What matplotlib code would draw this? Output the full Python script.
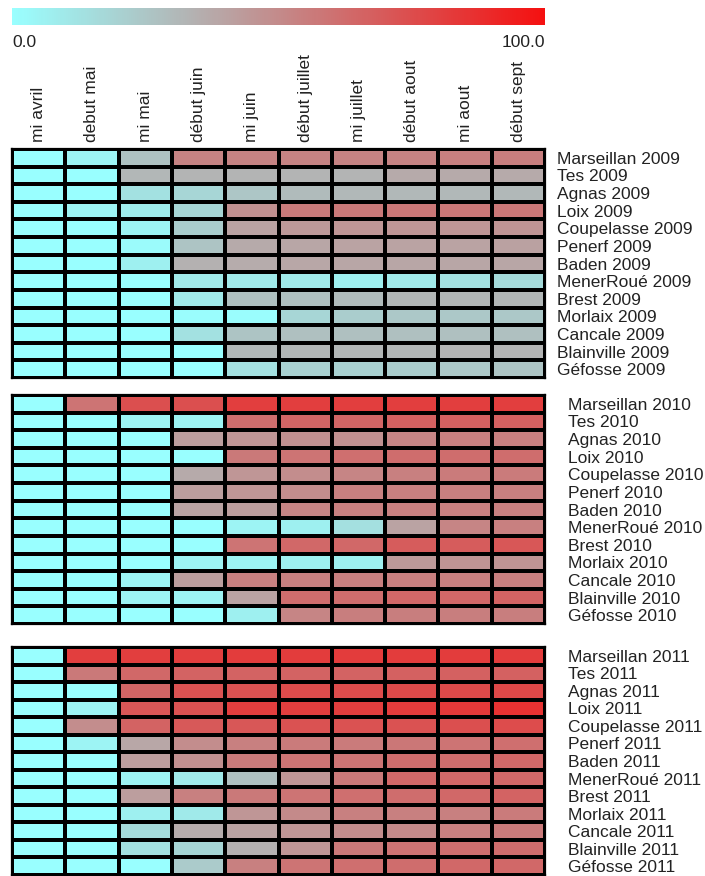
import numpy as np
import matplotlib
matplotlib.use("Agg")
import matplotlib.pyplot as plt
from matplotlib.colors import LinearSegmentedColormap, Normalize
from matplotlib.cm import ScalarMappable

plt.rcParams["font.family"] = ["Liberation Sans", "DejaVu Sans"]

periods = ["mi avril", "debut mai", "mi mai", "début juin", "mi juin",
           "début juillet", "mi juillet", "début aout", "mi aout", "début sept"]
sites = ["Marseillan", "Tes", "Agnas", "Loix", "Coupelasse", "Penerf", "Baden",
         "MenerRoué", "Brest", "Morlaix", "Cancale", "Blainville", "Géfosse"]
years = ["2009", "2010", "2011"]

values_2009 = [
    [0, 5, 27, 53, 53, 53, 53, 53, 54, 55],
    [0, 0, 32, 33, 33, 33, 33, 37, 37, 37],
    [0, 0, 13, 18, 25, 30, 31, 31, 31, 31],
    [0, 5, 8, 18, 47, 56, 57, 58, 58, 58],
    [0, 0, 5, 22, 40, 44, 45, 45, 45, 46],
    [0, 0, 2, 26, 37, 39, 40, 40, 40, 41],
    [0, 0, 7, 34, 36, 38, 39, 39, 39, 39],
    [0, 0, 0, 9, 9, 9, 7, 9, 13, 16],
    [0, 0, 0, 9, 28, 28, 30, 32, 32, 32],
    [0, 0, 0, 1, 1, 18, 22, 24, 24, 24],
    [0, 0, 0, 13, 26, 28, 28, 28, 28, 28],
    [0, 0, 0, 0, 31, 32, 32, 32, 33, 33],
    [0, 0, 0, 0, 14, 20, 20, 22, 24, 26],
]
values_2010 = [
    [0, 59, 74, 74, 81, 81, 81, 81, 81, 81],
    [0, 0, 5, 5, 62, 65, 65, 67, 67, 67],
    [0, 0, 0, 42, 45, 48, 48, 52, 54, 54],
    [0, 0, 0, 0, 57, 59, 61, 62, 62, 62],
    [0, 0, 0, 37, 45, 49, 52, 54, 56, 56],
    [0, 0, 0, 42, 45, 49, 54, 54, 54, 54],
    [0, 0, 0, 40, 42, 52, 54, 54, 54, 54],
    [0, 0, 0, 0, 5, 7, 14, 40, 52, 54],
    [0, 0, 0, 0, 59, 64, 64, 69, 69, 71],
    [0, 0, 0, 5, 5, 7, 7, 44, 46, 46],
    [0, 0, 5, 42, 54, 54, 54, 54, 54, 54],
    [0, 0, 5, 5, 40, 62, 62, 64, 64, 66],
    [0, 0, 0, 0, 7, 52, 55, 55, 55, 55],
]
values_2011 = [
    [0, 81, 81, 81, 82, 82, 82, 82, 82, 82],
    [0, 57, 64, 66, 66, 66, 66, 67, 67, 67],
    [0, 0, 65, 73, 73, 75, 75, 76, 76, 77],
    [0, 5, 71, 73, 81, 81, 81, 82, 83, 86],
    [0, 49, 66, 70, 71, 73, 73, 73, 74, 75],
    [0, 5, 38, 49, 54, 56, 56, 58, 59, 61],
    [0, 0, 42, 48, 56, 59, 59, 62, 62, 64],
    [0, 0, 5, 9, 28, 45, 57, 64, 64, 64],
    [0, 0, 42, 54, 57, 59, 61, 62, 64, 66],
    [0, 0, 7, 9, 45, 50, 54, 54, 54, 56],
    [0, 0, 16, 36, 40, 45, 49, 50, 54, 56],
    [0, 0, 13, 18, 34, 45, 57, 59, 61, 62],
    [0, 0, 0, 23, 54, 59, 61, 62, 64, 64],
]
vmin, vmax = 0.0, 100.0

cmap = LinearSegmentedColormap.from_list(
    "cyan_grey_red", [(0.0, "#99ffff"), (1 / 3, "#b3b3b3"), (1.0, "#f51010")])
norm = Normalize(vmin=vmin, vmax=vmax)
text_color = "#222222"
fs = 12.5
grid_lw = 1.6

W, H = 705, 876
fig = plt.figure(figsize=(W / 100, H / 100), dpi=100)


def px_axes(x0, y0, x1, y1):
    return fig.add_axes([x0 / W, 1 - y1 / H, (x1 - x0) / W, (y1 - y0) / H])


# colour scale
cax = px_axes(12, 8, 545, 25)
cb = fig.colorbar(ScalarMappable(norm=norm, cmap=cmap), cax=cax,
                  orientation="horizontal")
cb.outline.set_visible(False)
cb.set_ticks([vmin, vmax])
cb.set_ticklabels([f"{vmin:.1f}", f"{vmax:.1f}"])
cax.tick_params(length=0, pad=7, labelsize=fs, labelcolor=text_color)
tl = cax.get_xticklabels()
tl[0].set_ha("left")
tl[1].set_ha("right")

panels = [
    (values_2009, (149, 378), 8.5, True),
    (values_2010, (395, 624), 16.5, False),
    (values_2011, (647, 875), 16.5, False),
]

for (vals, (top, bottom), rpad, show_cols), year in zip(panels, years):
    ax = px_axes(12, top, 545, bottom)
    data = np.array(vals, dtype=float)
    ax.pcolormesh(data, cmap=cmap, norm=norm, edgecolors="black",
                  linewidth=grid_lw)
    ax.set_xlim(0, len(periods))
    ax.set_ylim(len(sites), 0)
    for s in ax.spines.values():
        s.set_linewidth(grid_lw)
        s.set_color("black")
    ax.yaxis.tick_right()
    ax.set_yticks(np.arange(len(sites)) + 0.5)
    ax.set_yticklabels([f"{s} {year}" for s in sites])
    ax.tick_params(axis="y", length=0, pad=rpad, labelsize=fs,
                   labelcolor=text_color)
    if show_cols:
        ax.xaxis.tick_top()
        ax.set_xticks(np.arange(len(periods)) + 0.5)
        ax.set_xticklabels(periods, rotation=90)
        ax.tick_params(axis="x", length=0, pad=5, labelsize=fs,
                       labelcolor=text_color)
    else:
        ax.set_xticks([])

fig.savefig("out.png", dpi=100)
